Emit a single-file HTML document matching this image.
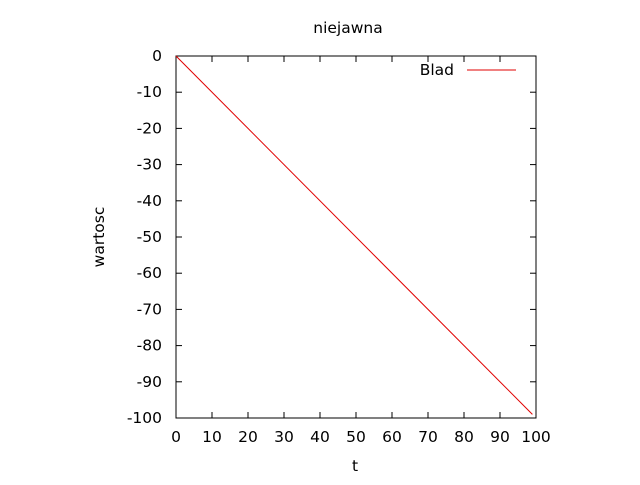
<!DOCTYPE html>
<html><head><meta charset="utf-8"><style>
body{margin:0;background:#fff}
text{font-family:"DejaVu Sans","Liberation Sans",sans-serif;font-size:15.5px;fill:#000}
</style></head><body>
<svg id="chart" width="640" height="480" xmlns="http://www.w3.org/2000/svg">
<rect width="640" height="480" fill="#fff"/>
<text x="348" y="33" text-anchor="middle">niejawna</text>
<text x="355" y="471" text-anchor="middle">t</text>
<text transform="translate(104,237) rotate(-90)" text-anchor="middle">wartosc</text>
<g id="axes"></g>
<g id="legend">
<text x="454" y="75" text-anchor="end">Blad</text>
<line x1="467" y1="70" x2="516" y2="70" stroke="#e00000" stroke-width="1"/>
</g>
</svg>
<script>
const xTicks=[0,10,20,30,40,50,60,70,80,90,100];
const yTicks=[0,-10,-20,-30,-40,-50,-60,-70,-80,-90,-100];
const tValues=[0,99];
const bladValues=[0,-99];
const X0=176,X1=536,Y0=56,Y1=418;
const sx=v=>X0+(v-0)/100*(X1-X0);
const sy=v=>Y0+(0-v)/100*(Y1-Y0);
const NS="http://www.w3.org/2000/svg";
const g=document.getElementById('axes');
function mk(tag,attrs,parent){const e=document.createElementNS(NS,tag);for(const k in attrs)e.setAttribute(k,attrs[k]);(parent||g).appendChild(e);return e;}
xTicks.forEach(v=>{
 const x=sx(v);
 const a=mk('line',{x1:x,y1:Y1,x2:x,y2:Y1-6,stroke:'#000'});
 
 
 const b=mk('line',{x1:x,y1:Y0,x2:x,y2:Y0+6,stroke:'#000'});
 
 
 const t=mk('text',{x:x,y:Y1+24,'text-anchor':'middle'});t.textContent=v;
 
 
});
yTicks.forEach(v=>{
 const y=sy(v);
 const a=mk('line',{x1:X0,y1:y,x2:X0+6,y2:y,stroke:'#000'});
 
 
 const b=mk('line',{x1:X1,y1:y,x2:X1-6,y2:y,stroke:'#000'});
 
 
 const t=mk('text',{x:X0-14,y:y+5,'text-anchor':'end'});t.textContent=v;
 
 
});
const frame=mk('rect',{x:X0,y:Y0,width:X1-X0,height:Y1-Y0,fill:'none',stroke:'#000'});


const pts=tValues.map((t,i)=>sx(t)+','+sy(bladValues[i])).join(' ');
const line=mk('polyline',{points:pts,fill:'none',stroke:'#e00000','stroke-width':1});


</script>
</body></html>
